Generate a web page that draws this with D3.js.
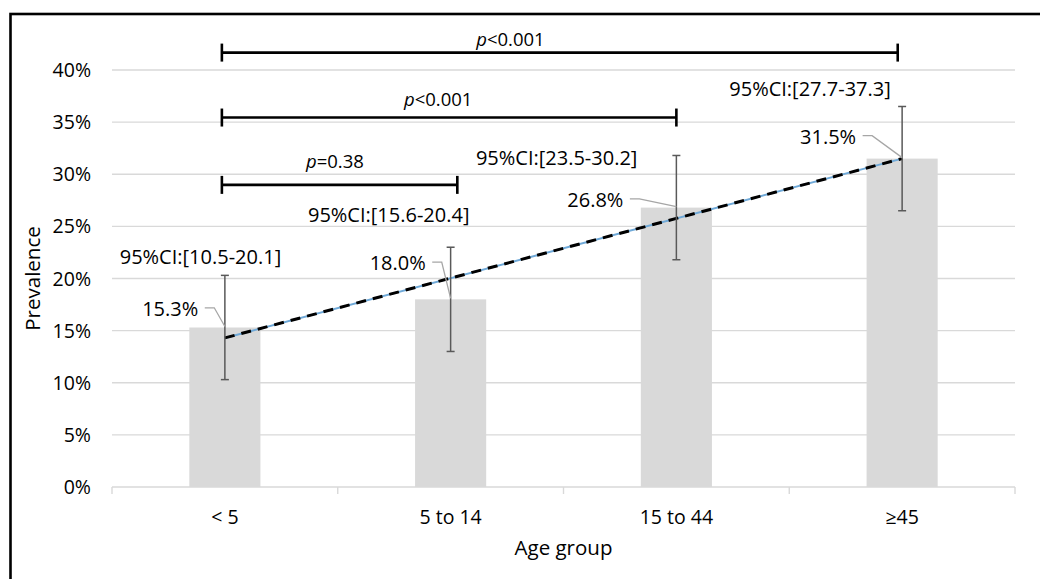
<!DOCTYPE html>
<html>
<head>
<meta charset="utf-8">
<script src="https://cdn.jsdelivr.net/npm/d3@7"></script>
<style>
  body { margin: 0; background: #fff; }
  text { font-family: "Open Sans", "Noto Sans", sans-serif; fill: #000; }
</style>
</head>
<body>
<svg id="chart" width="1040" height="579"></svg>
<script>
// chart values
var categories = ["< 5", "5 to 14", "15 to 44", "\u226545"];
var prevalence = [15.3, 18.0, 26.8, 31.5];
var errLow = [10.3, 13.0, 21.8, 26.5];
var errHigh = [20.3, 23.0, 31.8, 36.5];
var ciLabels = ["95%CI:[10.5-20.1]", "95%CI:[15.6-20.4]", "95%CI:[23.5-30.2]", "95%CI:[27.7-37.3]"];
var trendEnds = [14.3, 31.5];
var yTicks = [0, 5, 10, 15, 20, 25, 30, 35, 40];
var compFrom = [0, 0, 0];
var compTo = [1, 2, 3];
var pText = ["=0.38", "<0.001", "<0.001"];

// layout (pixels / value units), not data
var plot = {left: 112, right: 1015, top: 70, bottom: 487};
var labelOff = [[-26.6, -18.7], [-24.9, -36.3], [-53, -7.8], [-46, -22]];
var ciOff = [[-24.4, -18.9], [-61.9, -32.4], [-119.7, 2.7], [-92.1, -17.3]];
var bracketLevel = [28.98, 35.44, 41.67];
var bracketDx = [[-3, 6.7], [-3, 0], [-3, -4.4]];
var pPos = [[0.48, -23.3], [0.476, -18.4], [0.427, -13.4]];

var svg = d3.select("#chart");

// outer frame (cropped at right / bottom)
svg.append("rect")
  .attr("x", 10.5).attr("y", 14)
  .attr("width", 1100).attr("height", 700)
  .attr("fill", "none").attr("stroke", "#000").attr("stroke-width", 2.6);

var x = d3.scaleBand().domain(categories).range([plot.left, plot.right]);
var y = d3.scaleLinear().domain([0, 40]).range([plot.bottom, plot.top]);
function cx(i) { return x(categories[i]) + x.bandwidth() / 2; }

// gridlines
svg.append("g").selectAll("line").data(yTicks.slice(1)).join("line")
  .attr("x1", plot.left).attr("x2", plot.right)
  .attr("y1", d => y(d)).attr("y2", d => y(d))
  .attr("stroke", "#d9d9d9").attr("stroke-width", 1.4);

// y tick labels
svg.append("g").selectAll("text").data(yTicks).join("text")
  .attr("x", 91).attr("y", d => y(d))
  .attr("dy", "0.36em")
  .attr("text-anchor", "end")
  .style("font-size", "19.5px")
  .text(d => d + "%");

// bars
var bw = x.bandwidth() * 0.315;
svg.append("g").selectAll("rect").data(prevalence).join("rect")
  .attr("x", (d, i) => cx(i) - bw / 2)
  .attr("width", bw)
  .attr("y", d => y(d))
  .attr("height", d => y(0) - y(d))
  .attr("fill", "#d9d9d9");

// x axis line + ticks
var xAxis = svg.append("g").attr("transform", "translate(0," + y(0) + ")")
  .call(d3.axisBottom(x).tickSize(0).tickFormat(""));
xAxis.select(".domain").remove();
xAxis.append("line").attr("x1", plot.left).attr("x2", plot.right)
  .attr("stroke", "#d9d9d9").attr("stroke-width", 1.4);
var bounds = categories.map(c => x(c)).concat([plot.right]);
xAxis.selectAll(".bnd").data(bounds).join("line").attr("class", "bnd")
  .attr("x1", d => d).attr("x2", d => d).attr("y1", 0).attr("y2", 7)
  .attr("stroke", "#d9d9d9").attr("stroke-width", 1.4);

// category labels
svg.append("g").selectAll("text").data(categories).join("text")
  .attr("x", (d, i) => cx(i)).attr("y", 517)
  .attr("dy", "0.36em")
  .attr("text-anchor", "middle")
  .style("font-size", "19.5px")
  .text(d => d);

// axis titles
svg.append("text")
  .attr("x", (plot.left + plot.right) / 2).attr("y", 548).attr("dy", "0.36em")
  .attr("text-anchor", "middle").style("font-size", "20.5px")
  .text("Age group");
svg.append("text")
  .attr("transform", "translate(33," + ((plot.top + plot.bottom) / 2) + ") rotate(-90)")
  .attr("dy", "0.36em")
  .attr("text-anchor", "middle").style("font-size", "20.5px")
  .text("Prevalence");

// linear trend: light blue dash-dot underneath, black dashes on top
var tr = [[cx(0), y(trendEnds[0])], [cx(3), y(trendEnds[1])]];
svg.append("path").attr("d", d3.line()(tr))
  .attr("stroke", "#6fa9d8").attr("stroke-width", 2).attr("fill", "none");
svg.append("path").attr("d", d3.line()(tr))
  .attr("stroke", "#000").attr("stroke-width", 3)
  .attr("stroke-dasharray", "10,7").attr("fill", "none");

// error bars
var eb = svg.append("g").attr("stroke", "#595959").attr("stroke-width", 1.5);
prevalence.forEach(function(v, i) {
  eb.append("line").attr("x1", cx(i)).attr("x2", cx(i))
    .attr("y1", y(errLow[i])).attr("y2", y(errHigh[i]));
  [errLow[i], errHigh[i]].forEach(function(e) {
    eb.append("line").attr("x1", cx(i) - 4).attr("x2", cx(i) + 4)
      .attr("y1", y(e)).attr("y2", y(e));
  });
});

// value labels with leader lines
prevalence.forEach(function(v, i) {
  var ex = cx(i) + labelOff[i][0], ey = y(v) + labelOff[i][1];
  svg.append("text").attr("x", ex).attr("y", ey).attr("dy", "0.36em")
    .attr("text-anchor", "end").style("font-size", "20px")
    .text(v.toFixed(1) + "%");
  svg.append("path")
    .attr("d", "M" + (ex + 6.5) + "," + (ey - 1) + "H" + (ex + 16) + "L" + cx(i) + "," + (y(v) - 1))
    .attr("stroke", "#a6a6a6").attr("stroke-width", 1.3).attr("fill", "none");
});

// CI labels
ciLabels.forEach(function(t, i) {
  svg.append("text")
    .attr("x", cx(i) + ciOff[i][0]).attr("y", y(errHigh[i]) + ciOff[i][1])
    .attr("dy", "0.36em").attr("text-anchor", "middle")
    .style("font-size", "20px")
    .text(t);
});

// significance brackets
compFrom.forEach(function(f, k) {
  var x1 = cx(f) + bracketDx[k][0], x2 = cx(compTo[k]) + bracketDx[k][1], by = y(bracketLevel[k]);
  var g = svg.append("g").attr("stroke", "#000").attr("stroke-width", 2.6);
  g.append("line").attr("x1", x1).attr("x2", x2).attr("y1", by).attr("y2", by);
  g.append("line").attr("x1", x1).attr("x2", x1).attr("y1", by - 9).attr("y2", by + 9);
  g.append("line").attr("x1", x2).attr("x2", x2).attr("y1", by - 9).attr("y2", by + 9);
  var t = svg.append("text")
    .attr("x", x1 + (x2 - x1) * pPos[k][0]).attr("y", by + pPos[k][1])
    .attr("dy", "0.36em").attr("text-anchor", "middle")
    .style("font-size", "18.5px");
  t.append("tspan").style("font-style", "italic").text("p");
  t.append("tspan").text(pText[k]);
});
</script>
</body>
</html>
